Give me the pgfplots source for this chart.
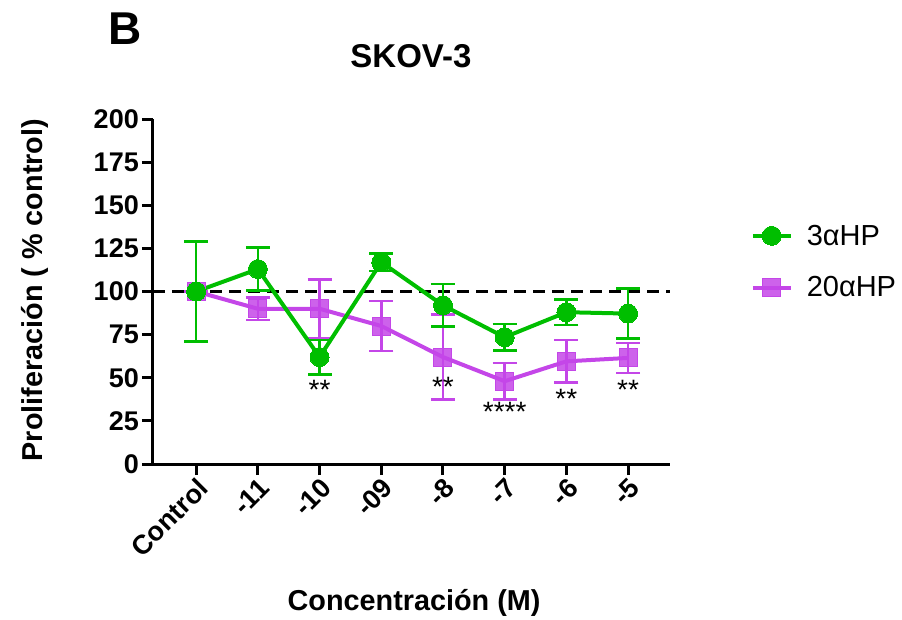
\documentclass[border=0pt]{standalone}
\usepackage{pgfplots}
\pgfplotsset{compat=1.18}
\usepackage{pgfplotstable}
\usepackage{fontspec}
\setmainfont{Liberation Sans}
\definecolor{grn}{RGB}{0,190,0}
\definecolor{prp}{RGB}{196,70,232}
\pgfplotstableread{
x y e
0 100 29
1 113 12.5
2 62 10
3 117 5
4 92 12.3
5 73.5 7.7
6 88 7.3
7 87.2 14.5
}\green
\pgfplotstableread{
x y e
0 100 0
1 90 6.5
2 90 17
3 80 14.6
4 62 24.6
5 48 10.5
6 59.5 12.3
7 61.5 8.7
}\purple
\begin{document}
\begin{tikzpicture}[x=1pt,y=1pt]
\useasboundingbox (-153,-155) rectangle (749,464);
\begin{axis}[
  at={(0,0)}, anchor=south west,
  scale only axis, width=517pt, height=345pt,
  xmin=-0.7, xmax=7.68, ymin=0, ymax=200,
  axis x line=bottom, axis y line=left,
  axis line style={-, line width=3pt, black},
  ytick={0,25,...,200},
  xtick={0,...,7},
  xticklabels={Control,-11,-10,-09,-8,-7,-6,-5},
  tick style={black, line width=3pt},
  major tick length=11pt,
  tick align=outside,
  /pgf/number format/assume math mode=true,
  ticklabel style={font=\fontsize{27}{30}\selectfont\bfseries},
  xticklabel style={rotate=45, anchor=north east, inner sep=1pt},
  yticklabel style={inner sep=3pt},
  title={SKOV-3},
  title style={at={(0.499,1.165)}, anchor=center, font=\fontsize{33}{36}\selectfont\bfseries},
  xlabel={Concentración (M)},
  xlabel style={at={(0.505,-0.403)}, anchor=center, font=\fontsize{28.8}{32}\selectfont\bfseries},
  ylabel={Proliferación ( \% control)},
  ylabel style={at={(-0.228,0.504)}, anchor=center, rotate=0, font=\fontsize{28.8}{32}\selectfont\bfseries},
  clip=false,
  reverse legend,
  legend cell align=left,
  legend style={at={(1.15,0.705)}, anchor=north west, draw=none, fill=none,
    font=\fontsize{29}{32}\selectfont, row sep=26pt, column sep=12pt},
  legend image code/.code={\draw[#1, mark repeat=2, mark phase=2] plot coordinates {(0pt,0pt) (19pt,0pt) (38pt,0pt)};},
]
\addplot[black, line width=3.8pt, dash pattern=on 12pt off 7pt, forget plot] coordinates {(-0.7,100) (7.68,100)};
\addplot[prp, line width=4pt, mark=square*, mark size=9pt,
  mark options={solid, fill=prp, fill opacity=0.85, draw=prp, line width=1pt},
  error bars/.cd, y dir=both, y explicit,
  error bar style={line width=2.5pt, prp},
  error mark options={rotate=90, mark size=12pt, line width=2.5pt, prp}]
  table[x=x, y=y, y error=e] {\purple};
\addlegendentry{20αHP}
\addplot[grn, line width=4pt, mark=*, mark size=9.5pt,
  mark options={solid, fill=grn, draw=grn, line width=0pt},
  error bars/.cd, y dir=both, y explicit,
  error bar style={line width=2.5pt, grn},
  error mark options={rotate=90, mark size=12pt, line width=2.5pt, grn}]
  table[x=x, y=y, y error=e] {\green};
\addlegendentry{3αHP}
\node[font=\fontsize{28}{30}\selectfont] at (axis cs:2,43) {**};
\node[font=\fontsize{28}{30}\selectfont] at (axis cs:4,45) {**};
\node[font=\fontsize{28}{30}\selectfont] at (axis cs:5,30) {****};
\node[font=\fontsize{28}{30}\selectfont] at (axis cs:6,38) {**};
\node[font=\fontsize{28}{30}\selectfont] at (axis cs:7,43) {**};
\node[font=\fontsize{46}{50}\selectfont\bfseries] at (rel axis cs:-0.054,1.262) {B};
\end{axis}
\end{tikzpicture}
\end{document}
